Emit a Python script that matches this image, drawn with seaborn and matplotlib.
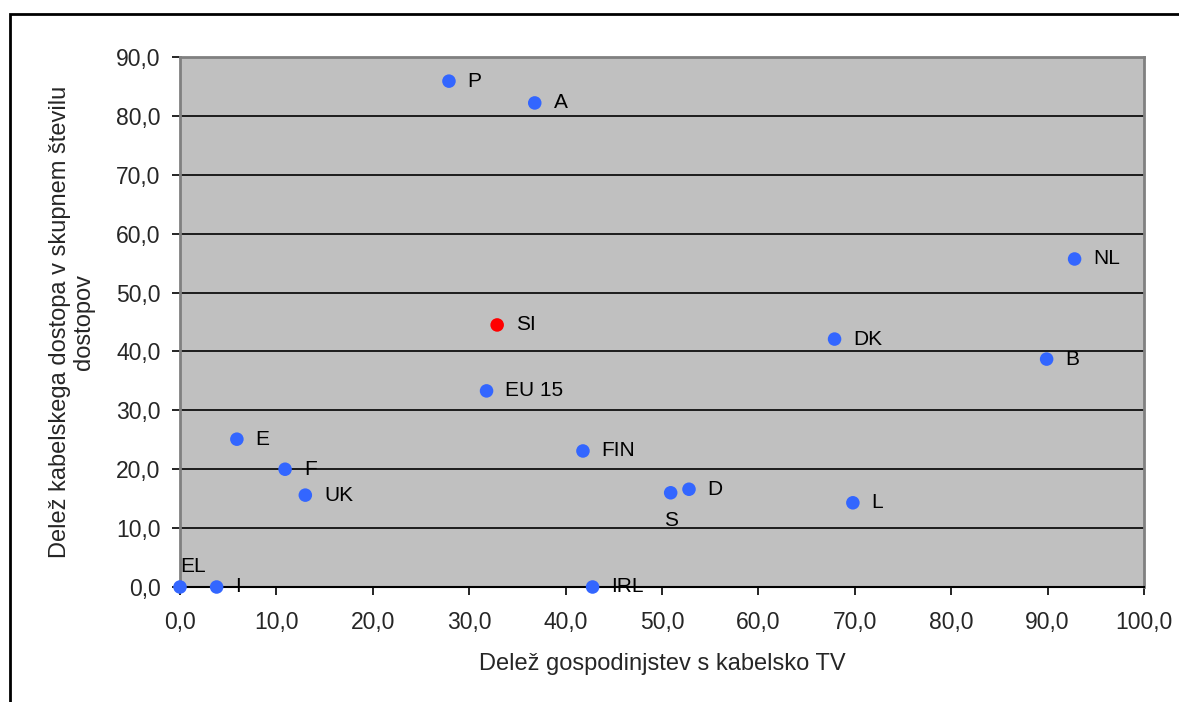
import matplotlib
matplotlib.use("Agg")
import matplotlib.pyplot as plt
from matplotlib.patches import Rectangle
from matplotlib.ticker import FuncFormatter, MultipleLocator
import seaborn as sns
import pandas as pd

# Country codes with household cable-TV share (x) and cable share of all accesses (y)
countries = ["P", "A", "NL", "SI", "DK", "B", "EU 15", "E", "FIN", "F",
             "UK", "S", "D", "L", "EL", "I", "IRL"]
cable_tv_share = [27.9, 36.8, 92.8, 32.9, 67.9, 89.9, 31.8, 5.9, 41.8, 10.9,
                  13.0, 50.9, 52.8, 69.8, 0.0, 3.8, 42.8]
cable_access_share = [85.9, 82.2, 55.7, 44.5, 42.1, 38.7, 33.3, 25.1, 23.1, 20.0,
                      15.6, 16.0, 16.6, 14.3, 0.0, 0.0, 0.0]

x_label = "Delež gospodinjstev s kabelsko TV"
y_label = "Delež kabelskega dostopa v skupnem številu\ndostopov"

df = pd.DataFrame({"country": countries, "x": cable_tv_share, "y": cable_access_share})
df["group"] = ["SI" if c == "SI" else "other" for c in countries]

sns.set_style("white")
plt.rcParams["font.family"] = ["Liberation Sans", "DejaVu Sans"]

fig = plt.figure(figsize=(11.79, 7.02), dpi=100)
ax = fig.add_axes([180 / 1179, 1 - 587 / 702, (1144 - 180) / 1179, (587 - 57) / 702])
ax.set_facecolor("#C0C0C0")

ax.set_xlim(0, 100)
ax.set_ylim(0, 90)
ax.yaxis.set_major_locator(MultipleLocator(10))
ax.xaxis.set_major_locator(MultipleLocator(10))
ax.grid(axis="y", color="black", linewidth=1.2)
ax.set_axisbelow(True)

sns.scatterplot(data=df, x="x", y="y", hue="group",
                palette={"other": "#3366FF", "SI": "#FF0000"},
                s=95, edgecolor="none", legend=False, ax=ax, clip_on=False, zorder=3)

# Point labels: most sit to the right of the marker
special = {"EL": ((0, 15), "left"), "S": ((0, -20), "center")}
for name, xv, yv in zip(countries, cable_tv_share, cable_access_share):
    offset, ha = special.get(name, ((13.5, 0), "left"))
    ax.annotate(name, (xv, yv), xytext=offset, textcoords="offset points",
                ha=ha, va="center", fontsize=15, color="black", zorder=4,
                annotation_clip=False)

fmt = FuncFormatter(lambda v, _: f"{v:.1f}".replace(".", ","))
ax.xaxis.set_major_formatter(fmt)
ax.yaxis.set_major_formatter(fmt)
ax.tick_params(axis="both", which="major", labelsize=16.5, direction="out",
               length=6, width=1.2, color="black", left=True, bottom=True)
ax.tick_params(axis="y", pad=8)
ax.tick_params(axis="x", pad=11)

for side in ["top", "right", "left"]:
    ax.spines[side].set_color("#808080")
    ax.spines[side].set_linewidth(2)
ax.spines["bottom"].set_color("black")
ax.spines["bottom"].set_linewidth(1.5)

ax.set_xlabel(x_label, fontsize=17, labelpad=14)
ax.set_ylabel(y_label, fontsize=17, labelpad=15, linespacing=1.15)

# Outer frame of the chart
fig.add_artist(Rectangle((10 / 1179, -0.1), 1.2, 1 - 14 / 702 + 0.1,
                         transform=fig.transFigure, fill=False,
                         edgecolor="black", linewidth=2))

fig.savefig("out.png", dpi=100)
